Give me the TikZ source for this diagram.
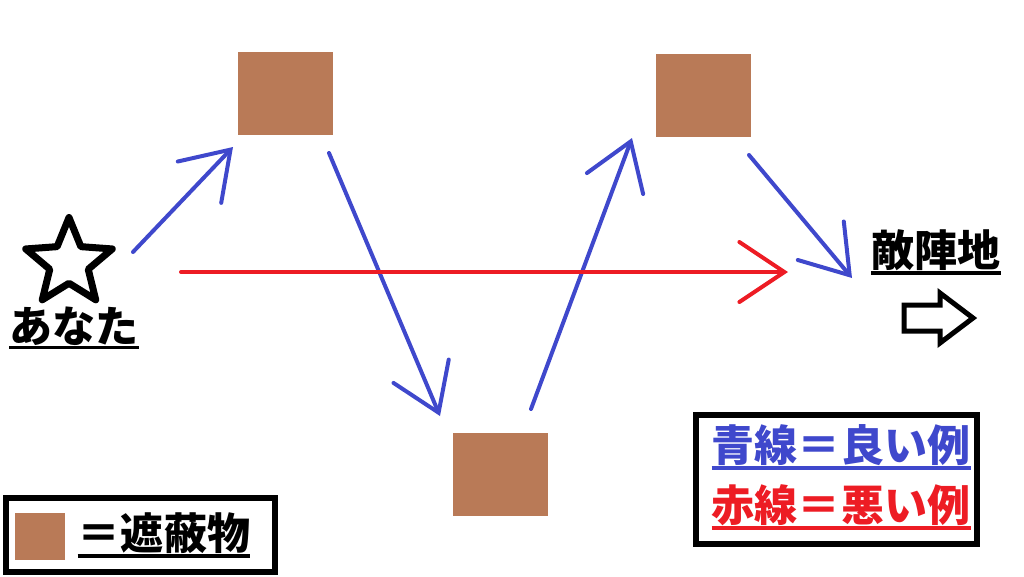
\documentclass[tikz,border=0pt]{standalone}
\usepackage{fontspec}
\newfontfamily\jp{Noto Sans CJK JP}
\usepackage{xcolor}
\usepackage{tikz}
\usetikzlibrary{arrows.meta,shapes.geometric}
\definecolor{obstacle}{RGB}{185,122,87}
\definecolor{goodblue}{RGB}{63,72,204}
\definecolor{badred}{RGB}{237,28,36}

\begin{document}
\begin{tikzpicture}[x=0.02cm,y=-0.02cm,
    cover/.style={fill=obstacle,minimum width=1.9cm,minimum height=1.66cm,inner sep=0pt},
    route/.style={line width=0.08cm,line cap=round,
        -{Straight Barb[length=0.9cm,width=1.2cm,line cap=round]}},
    jtext/.style={font=\jp\bfseries\fontsize{24.5}{28}\selectfont,inner sep=0pt},
    uline/.style={line width=0.07cm},
    legend/.style={draw,line width=0.12cm,fill=white,inner sep=0pt}]
\useasboundingbox (0,0) rectangle (1024,576);

\node[cover] at (285.5,93.5) (c1) {};
\node[cover] at (703.5,95) (c2) {};
\node[cover] at (500.5,474.5) (c3) {};

\node[star,star points=5,star point ratio=2.25,minimum size=1.82cm,draw,
    line width=0.14cm,line join=round,fill=white,inner sep=0pt] at (69,263) (you) {};
\node[jtext] at (74,326) (youlbl) {あなた};
\draw[uline] ([yshift=-0.04cm]youlbl.south west) -- ([yshift=-0.04cm]youlbl.south east);

\node[jtext] at (936,250) (enemy) {敵陣地};
\draw[uline] ([yshift=-0.04cm]enemy.south west) -- ([yshift=-0.04cm]enemy.south east);
\draw[line width=0.1cm,fill=white] (904,305) -- (940,305) -- (940,293) -- (973,318)
    -- (940,343) -- (940,331) -- (904,331) -- cycle;

\coordinate (s1) at (133,252); \coordinate (e1) at (233,147);
\coordinate (s2) at (329,153); \coordinate (e2) at (440,416);
\coordinate (s3) at (531,409); \coordinate (e3) at (632,138);
\coordinate (s4) at (749,155); \coordinate (e4) at (852,278);
\coordinate (s5) at (181,272); \coordinate (e5) at (788,272);

\draw[route,goodblue] (s1) -- (e1);
\draw[route,goodblue] (s2) -- (e2);
\draw[route,goodblue] (s3) -- (e3);
\draw[route,goodblue] (s4) -- (e4);
\draw[route,badred] (s5) -- (e5);

\node[legend,minimum width=5.62cm,minimum height=2.58cm] at (836.5,479.5) (key) {};
\node[jtext,goodblue] at (841,445) (good) {青線＝良い例};
\draw[uline,goodblue] ([yshift=-0.04cm]good.south west) -- ([yshift=-0.04cm]good.south east);
\node[jtext,badred] at (841,505) (bad) {赤線＝悪い例};
\draw[uline,badred] ([yshift=-0.04cm]bad.south west) -- ([yshift=-0.04cm]bad.south east);

\node[legend,minimum width=5.38cm,minimum height=1.48cm] at (140.5,535) (coverkey) {};
\node[fill=obstacle,minimum width=1cm,minimum height=0.94cm,inner sep=0pt] at (40,536.5) (sample) {};
\node[jtext] at (164,533) (coverlbl) {＝遮蔽物};
\draw[uline] ([yshift=-0.04cm]coverlbl.south west) -- ([yshift=-0.04cm]coverlbl.south east);
\end{tikzpicture}
\end{document}
